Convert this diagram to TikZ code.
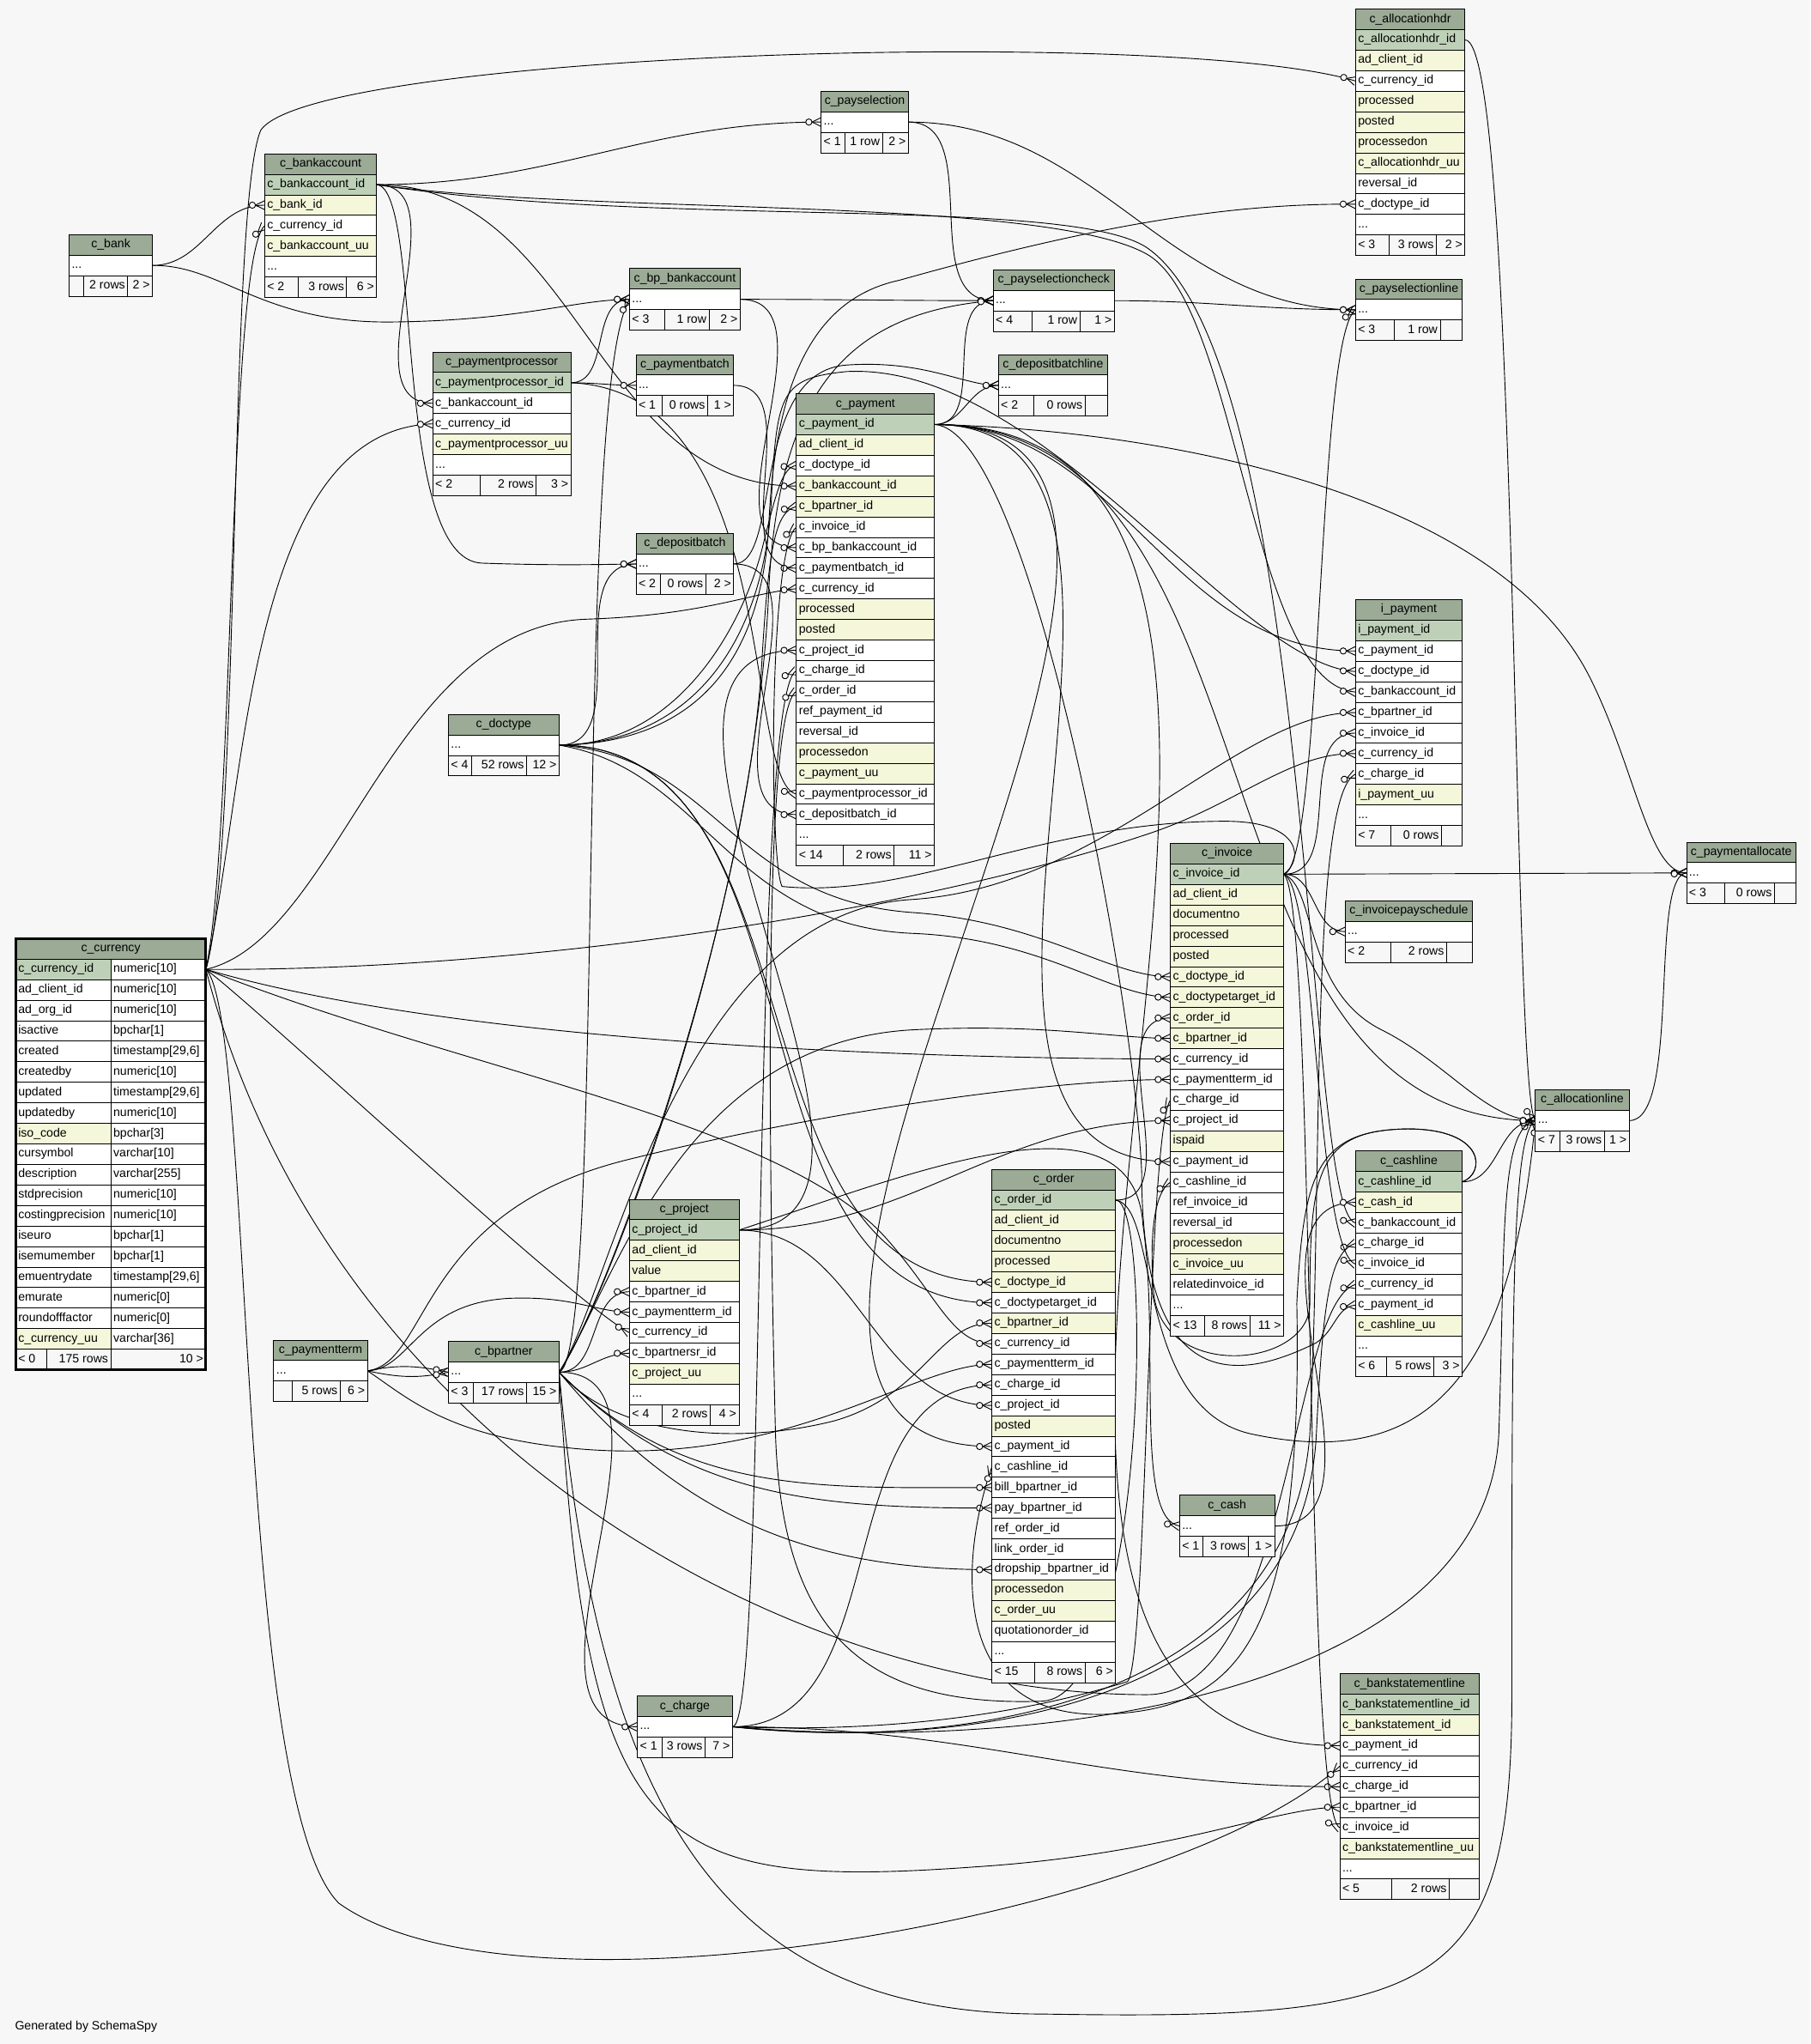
\documentclass[tikz,border=0pt]{standalone}
\usepackage{fontspec}
\setmainfont{Liberation Sans}
\usetikzlibrary{positioning}

\definecolor{bgcol}{HTML}{F7F7F7}
\definecolor{colh}{HTML}{9BAB96}
\definecolor{colp}{HTML}{BED1B8}
\definecolor{coli}{HTML}{F4F7DA}
\definecolor{coln}{HTML}{FFFFFF}

\pgfdeclarelayer{bg}
\pgfdeclarelayer{links}
\pgfsetlayers{bg,links,main}

\pgfdeclarearrow{
  name = crowodot,
  setup code = {
    \pgfarrowssettipend{0pt}
    \pgfarrowssetlineend{0pt}
    \pgfarrowssetvisualbackend{-11.8pt}
    \pgfarrowssetbackend{-11.8pt}
    \pgfarrowshullpoint{0pt}{3.4pt}
    \pgfarrowshullpoint{0pt}{-3.4pt}
    \pgfarrowshullpoint{-11.8pt}{0pt}
  },
  drawing code = {
    \pgfsetdash{}{0pt}
    \pgfpathmoveto{\pgfqpoint{0pt}{3.4pt}}
    \pgfpathlineto{\pgfqpoint{-7pt}{0pt}}
    \pgfpathlineto{\pgfqpoint{0pt}{-3.4pt}}
    \pgfusepathqstroke
    \pgfpathcircle{\pgfqpoint{-9.4pt}{0pt}}{2.4pt}
    \pgfsetfillcolor{bgcol}
    \pgfusepathqfillstroke
  }
}

\newcommand{\tblfont}{\fontsize{9.3}{11}\selectfont}
\newcommand{\rowh}{15.75}
\newcommand{\etc}{...}

\tikzset{
  tblhead/.style={draw, fill=colh, outer sep=0pt, inner xsep=2pt, inner ysep=0pt,
    minimum height=\rowh pt, text height=6.8pt, text depth=2.2pt, font=\tblfont, line width=.6pt},
  tblrow/.style={tblhead, fill=col#1},
  tblfoot/.style={tblhead, fill=bgcol},
  fk/.style={line width=.6pt, -crowodot},
}

\newcommand{\dbtable}[6]{%
  \pgfmathsetmacro\tblcw{#5-4}%
  \xdef\tblkey{#1}\xdef\tblw{#5}%
  \node[tblhead, anchor=north west] (#1-0) at (#3,#4) {\makebox[\tblcw pt]{#2}};
  \foreach \col/\kind [count=\i, remember=\i as \j (initially 0)] in {#6} {
    \node[tblrow=\kind, below=0pt of #1-\j] (#1-\i) {\makebox[\tblcw pt][l]{\col}};
    \xdef\tbllast{\i}
  }
}

\newcommand{\dbfoot}[5]{%
  \pgfmathsetmacro\fwa{#1-4}\pgfmathsetmacro\fwb{#2-#1-4}\pgfmathsetmacro\fwc{\tblw-#2-4}%
  \node[tblfoot, anchor=north west] (\tblkey-fl) at (\tblkey-\tbllast.south west) {\makebox[\fwa pt][l]{#3}};
  \node[tblfoot, anchor=north west] (\tblkey-fm) at (\tblkey-fl.north east) {\makebox[\fwb pt][r]{#4}};
  \node[tblfoot, anchor=north west] (\tblkey-fr) at (\tblkey-fm.north east) {\makebox[\fwc pt][r]{#5}};
}

\begin{document}
\begin{tikzpicture}[x=1pt, y=-1pt]
\useasboundingbox (0,0) rectangle (1389,1568);
\begin{pgfonlayer}{bg}
  \fill[bgcol] (0,0) rectangle (1389,1568);
\end{pgfonlayer}

\dbtable{ahdr}{c\_allocationhdr}{1040}{7}{84}{c\_allocationhdr\_id/p, ad\_client\_id/i, c\_currency\_id/n, processed/i, posted/i, processedon/i, c\_allocationhdr\_uu/i, reversal\_id/n, c\_doctype\_id/n, \etc/n}
\dbfoot{25.5}{62}{< 3}{3 rows}{2 >}

\dbtable{psel}{c\_payselection}{630}{70}{67}{\etc/n}
\dbfoot{18}{47}{< 1}{1 row}{2 >}

\dbtable{bacc}{c\_bankaccount}{203}{118}{86}{c\_bankaccount\_id/p, c\_bank\_id/i, c\_currency\_id/n, c\_bankaccount\_uu/i, \etc/n}
\dbfoot{25.5}{63}{< 2}{3 rows}{6 >}

\dbtable{bank}{c\_bank}{53}{180}{64}{\etc/n}
\dbfoot{11}{45}{}{2 rows}{2 >}

\dbtable{bpba}{c\_bp\_bankaccount}{483}{206}{85}{\etc/n}
\dbfoot{27}{61}{< 3}{1 row}{2 >}

\dbtable{pscheck}{c\_payselectioncheck}{762}{207}{93}{\etc/n}
\dbfoot{30}{66.5}{< 4}{1 row}{1 >}

\dbtable{psline}{c\_payselectionline}{1040}{214}{82}{\etc/n}
\dbfoot{29.5}{65}{< 3}{1 row}{}

\dbtable{pp}{c\_paymentprocessor}{332}{270}{106}{c\_paymentprocessor\_id/p, c\_bankaccount\_id/n, c\_currency\_id/n, c\_paymentprocessor\_uu/i, \etc/n}
\dbfoot{36.5}{79.5}{< 2}{2 rows}{3 >}

\dbtable{pbatch}{c\_paymentbatch}{488}{272}{75}{\etc/n}
\dbfoot{20}{55}{< 1}{0 rows}{1 >}

\dbtable{dbline}{c\_depositbatchline}{766}{272}{84}{\etc/n}
\dbfoot{27.5}{66.5}{< 2}{0 rows}{}

\dbtable{pay}{c\_payment}{611}{302}{106}{c\_payment\_id/p, ad\_client\_id/i, c\_doctype\_id/n, c\_bankaccount\_id/i, c\_bpartner\_id/i, c\_invoice\_id/n, c\_bp\_bankaccount\_id/n, c\_paymentbatch\_id/n, c\_currency\_id/n, processed/i, posted/i, c\_project\_id/n, c\_charge\_id/n, c\_order\_id/n, ref\_payment\_id/n, reversal\_id/n, processedon/i, c\_payment\_uu/i, c\_paymentprocessor\_id/n, c\_depositbatch\_id/n, \etc/n}
\dbfoot{36}{75}{< 14}{2 rows}{11 >}

\dbtable{dbatch}{c\_depositbatch}{488}{409}{75}{\etc/n}
\dbfoot{19}{53.5}{< 2}{0 rows}{2 >}

\dbtable{ipay}{i\_payment}{1040}{460}{82}{i\_payment\_id/p, c\_payment\_id/n, c\_doctype\_id/n, c\_bankaccount\_id/n, c\_bpartner\_id/n, c\_invoice\_id/n, c\_currency\_id/n, c\_charge\_id/n, i\_payment\_uu/i, \etc/n}
\dbfoot{27}{66}{< 7}{0 rows}{}

\dbtable{doct}{c\_doctype}{344}{548}{85}{\etc/n}
\dbfoot{18}{60}{< 4}{52 rows}{12 >}

\dbtable{inv}{c\_invoice}{898}{647}{87}{c\_invoice\_id/p, ad\_client\_id/i, documentno/i, processed/i, posted/i, c\_doctype\_id/i, c\_doctypetarget\_id/i, c\_order\_id/i, c\_bpartner\_id/i, c\_currency\_id/n, c\_paymentterm\_id/n, c\_charge\_id/n, c\_project\_id/n, ispaid/i, c\_payment\_id/n, c\_cashline\_id/n, ref\_invoice\_id/n, reversal\_id/n, processedon/i, c\_invoice\_uu/i, relatedinvoice\_id/n, \etc/n}
\dbfoot{26.5}{61}{< 13}{8 rows}{11 >}

\dbtable{palloc}{c\_paymentallocate}{1294}{646}{84}{\etc/n}
\dbfoot{29}{67.5}{< 3}{0 rows}{}

\dbtable{ipsched}{c\_invoicepayschedule}{1032}{691}{98}{\etc/n}
\dbfoot{35}{78}{< 2}{2 rows}{}

\dbtable{aline}{c\_allocationline}{1178}{836}{72}{\etc/n}
\dbfoot{19}{53}{< 7}{3 rows}{1 >}

\dbtable{cline}{c\_cashline}{1040}{883}{82}{c\_cashline\_id/p, c\_cash\_id/i, c\_bankaccount\_id/n, c\_charge\_id/n, c\_invoice\_id/n, c\_currency\_id/n, c\_payment\_id/n, c\_cashline\_uu/i, \etc/n}
\dbfoot{24}{60}{< 6}{5 rows}{3 >}

\dbtable{ord}{c\_order}{761}{897}{95}{c\_order\_id/p, ad\_client\_id/i, documentno/i, processed/i, c\_doctype\_id/i, c\_doctypetarget\_id/n, c\_bpartner\_id/i, c\_currency\_id/n, c\_paymentterm\_id/n, c\_charge\_id/n, c\_project\_id/n, posted/i, c\_payment\_id/n, c\_cashline\_id/n, bill\_bpartner\_id/n, pay\_bpartner\_id/n, ref\_order\_id/n, link\_order\_id/n, dropship\_bpartner\_id/n, processedon/i, c\_order\_uu/i, quotationorder\_id/n, \etc/n}
\dbfoot{33}{71.5}{< 15}{8 rows}{6 >}

\dbtable{proj}{c\_project}{483}{920}{84}{c\_project\_id/p, ad\_client\_id/i, value/i, c\_bpartner\_id/n, c\_paymentterm\_id/n, c\_currency\_id/n, c\_bpartnersr\_id/n, c\_project\_uu/i, \etc/n}
\dbfoot{25}{62}{< 4}{2 rows}{4 >}

\dbtable{pterm}{c\_paymentterm}{210}{1028}{72}{\etc/n}
\dbfoot{14}{51}{}{5 rows}{6 >}

\dbtable{bp}{c\_bpartner}{344}{1029}{85}{\etc/n}
\dbfoot{19}{60}{< 3}{17 rows}{15 >}

\dbtable{cash}{c\_cash}{905}{1147}{73}{\etc/n}
\dbfoot{18}{53}{< 1}{3 rows}{1 >}

\dbtable{chg}{c\_charge}{489}{1301}{73}{\etc/n}
\dbfoot{19}{52}{< 1}{3 rows}{7 >}

\dbtable{bsl}{c\_bankstatementline}{1028}{1284}{107}{c\_bankstatementline\_id/p, c\_bankstatement\_id/i, c\_payment\_id/n, c\_currency\_id/n, c\_charge\_id/n, c\_bpartner\_id/n, c\_invoice\_id/n, c\_bankstatementline\_uu/i, \etc/n}
\dbfoot{40}{84}{< 5}{2 rows}{}

\node[tblhead, anchor=north west, alias=cur-n0] (cur-0) at (12,720) {\makebox[142pt]{c\_currency}};
\foreach \col/\typ/\kind [count=\i, remember=\i as \j (initially 0)] in {c\_currency\_id/numeric[10]/p, ad\_client\_id/numeric[10]/n, ad\_org\_id/numeric[10]/n, isactive/bpchar[1]/n, created/{timestamp[29,6]}/n, createdby/numeric[10]/n, updated/{timestamp[29,6]}/n, updatedby/numeric[10]/n, iso\_code/bpchar[3]/i, cursymbol/varchar[10]/n, description/varchar[255]/n, stdprecision/numeric[10]/n, costingprecision/numeric[10]/n, iseuro/bpchar[1]/n, isemumember/bpchar[1]/n, emuentrydate/{timestamp[29,6]}/n, emurate/numeric[0]/n, roundofffactor/numeric[0]/n, c\_currency\_uu/varchar[36]/i} {
  \node[tblrow=\kind, anchor=north west] (cur-n\i) at (cur-n\j.south west) {\makebox[69pt][l]{\col}};
  \node[tblrow=n, anchor=north west] (cur-\i) at (cur-n\i.north east) {\makebox[69pt][l]{\typ}};
}
\xdef\tblkey{cur}\xdef\tblw{146}\xdef\tbllast{n19}
\dbfoot{24}{73}{< 0}{175 rows}{10 >}
\draw[line width=2pt] (cur-0.north west) rectangle (cur-fr.south east);

\node[anchor=west, font=\tblfont] (credit) at (8,1555) {Generated by SchemaSpy};

\begin{pgfonlayer}{links}
\path[fk] (bank-1.east) edge[out=0,in=180] (bacc-2.west);
\draw[fk] (bank-1.east) .. controls (170,203) and (200,248) .. (300,247) .. controls (400,246) and (440,230) .. (bpba-1.west);

\path[fk] (bacc-1.east) edge[out=0,in=180] (psel-1.west)
          (bacc-1.east) edge[out=0,in=180] (pp-2.west)
          (bacc-1.east) edge[out=0,in=180] (pay-4.west);
\draw[fk] (bacc-1.east) .. controls (325,145) and (300,430) .. (370,432) .. controls (430,434) and (460,433) .. (dbatch-1.west);
\draw[fk] (bacc-1.east) .. controls (450,165) and (800,150) .. (880,195) .. controls (950,235) and (960,525) .. (ipay-4.west);
\draw[fk] (bacc-1.east) .. controls (500,175) and (820,150) .. (880,190) .. controls (1010,280) and (1000,930) .. (cline-3.west);

\path[fk] (psel-1.east) edge[out=0,in=180] (pscheck-1.west)
          (psel-1.east) edge[out=0,in=180] (psline-1.west);

\path[fk] (bpba-1.east) edge[out=0,in=180] (pscheck-1.west)
          (bpba-1.east) edge[out=0,in=180] (pay-7.west);

\path[fk] (pscheck-1.east) edge[out=0,in=180] (psline-1.west);

\path[fk] (pp-1.east) edge[out=0,in=180] (pbatch-1.west)
          (pp-1.east) edge[out=0,in=180] (bpba-1.west);
\draw[fk] (pp-1.east) .. controls (600,300) and (570,600) .. (pay-19.west);

\path[fk] (pbatch-1.east) edge[out=0,in=180] (pay-8.west);

\path[fk] (dbatch-1.east) edge[out=0,in=180] (pay-20.west);
\draw[fk] (dbatch-1.east) .. controls (600,433) and (575,285) .. (650,280) .. controls (710,276) and (740,296) .. (dbline-1.west);

\path[fk] (pay-1.east) edge[out=0,in=180] (dbline-1.west)
          (pay-1.east) edge[out=0,in=180] (pscheck-1.west)
          (pay-1.east) edge[out=0,in=180] (ipay-2.west)
          (pay-1.east) edge[out=0,in=180] (inv-15.west)
          (pay-1.east) edge[out=0,in=180] (ord-13.west)
          (pay-1.east) edge[out=0,in=180] (bsl-3.west)
          (pay-1.east) edge[out=0,in=180] (aline-1.west);
\draw[fk] (pay-1.east) .. controls (900,330) and (1150,380) .. (1220,520) .. controls (1255,590) and (1265,670) .. (palloc-1.west);
\draw[fk] (pay-1.east) .. controls (790,330) and (870,760) .. (876,900) .. controls (876,1070) and (950,1060) .. (1010,1030) .. controls (1025,1020) and (1025,1003) .. (cline-7.west);

\path[fk] (doct-1.east) edge[out=0,in=180] (dbatch-1.west)
          (doct-1.east) edge[out=0,in=180] (ord-5.west)
          (doct-1.east) edge[out=0,in=180] (ord-6.west);
\draw[fk] (doct-1.east) .. controls (520,572) and (570,480) .. (585,420) .. controls (595,380) and (600,358) .. (pay-3.west);
\draw[fk] (doct-1.east) .. controls (540,570) and (585,500) .. (590,400) .. controls (595,300) and (620,230) .. (690,215) .. controls (850,170) and (950,156) .. (ahdr-9.west);
\draw[fk] (doct-1.east) .. controls (540,570) and (588,480) .. (592,380) .. controls (596,300) and (600,290) .. (650,285) .. controls (800,278) and (950,510) .. (ipay-3.west);
\draw[fk] (doct-1.east) .. controls (550,580) and (560,690) .. (700,700) .. controls (800,707) and (850,749) .. (inv-6.west);
\draw[fk] (doct-1.east) .. controls (540,590) and (560,710) .. (700,716) .. controls (800,720) and (850,764) .. (inv-7.west);

\path[fk] (bp-1.east) edge[out=0,in=180] (proj-4.west)
          (bp-1.east) edge[out=0,in=180] (proj-7.west)
          (bp-1.east) edge[out=0,in=180] (chg-1.west)
          (bp-1.east) edge[out=-45,in=180] (ord-15.west)
          (bp-1.east) edge[out=-45,in=180] (ord-16.west)
          (bp-1.east) edge[out=-50,in=180] (ord-19.west);
\draw[fk] (bp-1.east) .. controls (465,1040) and (440,300) .. (bpba-1.west);
\draw[fk] (bp-1.east) .. controls (465,1000) and (580,700) .. (590,450) .. controls (598,300) and (650,240) .. (pscheck-1.west);
\draw[fk] (bp-1.east) .. controls (465,1000) and (575,700) .. (585,500) .. controls (590,420) and (595,392) .. (pay-5.west);
\draw[fk] (bp-1.east) .. controls (470,990) and (520,700) .. (700,690) .. controls (850,680) and (950,546) .. (ipay-5.west);
\draw[fk] (bp-1.east) .. controls (470,990) and (520,800) .. (700,790) .. controls (800,785) and (850,796) .. (inv-9.west);
\draw[fk] (bp-1.east) .. controls (470,1100) and (560,1110) .. (640,1090) .. controls (710,1070) and (720,1014) .. (ord-7.west);
\draw[fk] (bp-1.east) .. controls (460,1400) and (560,1545) .. (800,1545) .. controls (1100,1550) and (1160,1530) .. (1160,1300) .. controls (1160,1000) and (1160,870) .. (aline-1.west);
\draw[fk] (bp-1.east) .. controls (450,1420) and (500,1450) .. (750,1432) .. controls (900,1422) and (980,1386) .. (bsl-6.west);

\path[fk] (pterm-1.east) edge[out=12,in=168] (bp-1.west)
          (pterm-1.east) edge[out=-12,in=192] (bp-1.west);
\draw[fk] (pterm-1.east) .. controls (315,1050) and (320,1000) .. (390,996) .. controls (440,994) and (455,1006) .. (proj-5.west);
\draw[fk] (pterm-1.east) .. controls (330,1045) and (320,930) .. (480,890) .. controls (620,855) and (800,828) .. (inv-11.west);
\draw[fk] (pterm-1.east) .. controls (310,1070) and (340,1100) .. (430,1110) .. controls (600,1130) and (700,1046) .. (ord-9.west);

\path[fk] (proj-1.east) edge[out=0,in=180] (inv-13.west)
          (proj-1.east) edge[out=0,in=180] (ord-11.west)
          (proj-1.east) edge[out=0,in=180] (pay-12.west);
\draw[fk] (proj-1.east) .. controls (700,900) and (870,830) .. (877,940) .. controls (890,1030) and (870,1165) .. (cash-1.west);

\path[fk] (chg-1.east) edge[out=0,in=180] (ord-10.west)
          (chg-1.east) edge[out=0,in=180] (bsl-5.west);
\draw[fk] (chg-1.east) .. controls (590,1325) and (575,530) .. (pay-13.west);
\draw[fk] (chg-1.east) .. controls (750,1345) and (990,1300) .. (1005,1100) .. controls (1015,900) and (1005,610) .. (ipay-8.west);
\draw[fk] (chg-1.east) .. controls (700,1330) and (800,1310) .. (865,1290) .. controls (880,1280) and (880,870) .. (inv-12.west);
\draw[fk] (chg-1.east) .. controls (760,1345) and (1000,1300) .. (1010,1100) .. controls (1015,1000) and (1020,960) .. (cline-4.west);
\draw[fk] (chg-1.east) .. controls (800,1345) and (1140,1300) .. (1150,1100) .. controls (1155,950) and (1150,865) .. (aline-1.west);

\path[fk] (ord-1.east) edge[out=0,in=180] (inv-8.west);
\draw[fk] (ord-1.east) .. controls (890,925) and (870,1080) .. (960,1100) .. controls (1100,1130) and (1160,1050) .. (aline-1.west);
\draw[fk] (ord-1.east) .. controls (885,920) and (880,1300) .. (800,1305) .. controls (660,1310) and (600,1250) .. (595,1100) .. controls (590,900) and (585,545) .. (pay-14.west);

\path[fk] (inv-1.east) edge[out=0,in=180] (ipay-6.west)
          (inv-1.east) edge (palloc-1.west)
          (inv-1.east) edge[out=0,in=180] (ipsched-1.west);
\draw[fk] (inv-1.east) .. controls (1015,665) and (1010,260) .. (psline-1.west);
\draw[fk] (inv-1.east) .. controls (1010,680) and (1000,760) .. (1060,790) .. controls (1110,815) and (1140,859) .. (aline-1.west);
\draw[fk] (inv-1.east) .. controls (1010,680) and (1010,960) .. (cline-5.west);
\draw[fk] (inv-1.east) .. controls (1010,690) and (1000,1390) .. (bsl-7.west);
\draw[fk] (inv-1.east) .. controls (1000,660) and (1000,630) .. (940,630) .. controls (800,630) and (700,690) .. (600,680) .. controls (590,660) and (590,420) .. (pay-6.west);

\path[fk] (cline-1.east) edge[out=0,in=180] (aline-1.west);
\draw[fk] (cline-1.east) .. controls (1140,900) and (1140,866) .. (1080,866) .. controls (1010,867) and (1005,900) .. (1005,1000) .. controls (1005,1050) and (890,1060) .. (885,990) .. controls (882,950) and (885,915) .. (inv-16.west);
\draw[fk] (cline-1.east) .. controls (1140,900) and (1140,866) .. (1080,866) .. controls (1010,867) and (1000,900) .. (995,1000) .. controls (1000,1260) and (950,1310) .. (850,1315) .. controls (730,1320) and (735,1200) .. (ord-14.west);

\path[fk] (cash-1.east) edge[out=0,in=180] (cline-2.west);

\draw[fk] (ahdr-1.east) .. controls (1165,29) and (1160,840) .. (aline-1.west);
\draw[fk] (aline-1.east) .. controls (1290,860) and (1265,672) .. (palloc-1.west);

\draw[fk] (cur-1.east) .. controls (185,650) and (175,160) .. (200,100) .. controls (240,40) and (900,20) .. (ahdr-3.west);
\draw[fk] (cur-1.east) .. controls (180,640) and (175,200) .. (bacc-3.west);
\draw[fk] (cur-1.east) .. controls (190,600) and (190,330) .. (pp-3.west);
\draw[fk] (cur-1.east) .. controls (260,720) and (300,480) .. (450,475) .. controls (540,472) and (575,455) .. (pay-9.west);
\draw[fk] (cur-1.east) .. controls (400,745) and (700,700) .. (880,640) .. controls (950,617) and (990,577) .. (ipay-7.west);
\draw[fk] (cur-1.east) .. controls (350,800) and (700,812) .. (inv-10.west);
\draw[fk] (cur-1.east) .. controls (200,775) and (440,1000) .. (proj-6.west);
\draw[fk] (cur-1.east) .. controls (350,820) and (600,860) .. (680,950) .. controls (720,995) and (730,1030) .. (ord-8.west);
\draw[fk] (cur-1.east) .. controls (250,1100) and (600,1300) .. (880,1300) .. controls (990,1300) and (990,1000) .. (cline-6.west);
\draw[fk] (cur-1.east) .. controls (195,780) and (180,1380) .. (260,1460) .. controls (400,1560) and (900,1470) .. (bsl-4.west);
\end{pgfonlayer}
\end{tikzpicture}
\end{document}
